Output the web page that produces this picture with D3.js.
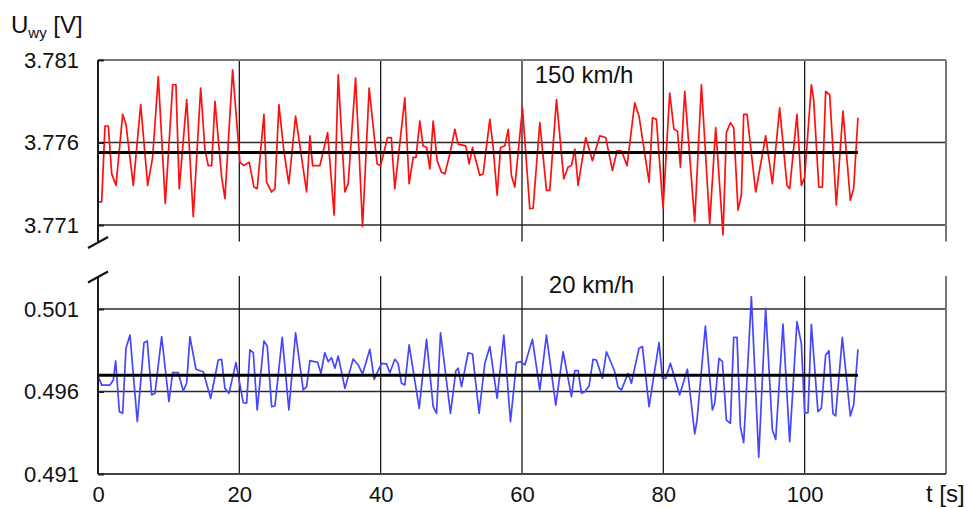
<!DOCTYPE html>
<html>
<head>
<meta charset="utf-8">
<script src="https://cdn.jsdelivr.net/npm/d3@7"></script>
<style>
  html, body { margin: 0; padding: 0; background: #fff; }
  svg { display: block; font-family: "Liberation Sans", Arial, sans-serif; }
  .tick text { fill: #111; }
</style>
</head>
<body>
<div id="chart"></div>
<script>
// --- data (t in s, U in V) ---
const tTop = [0.04,0.52,0.99,1.46,1.94,2.55,3.49,3.96,4.99,6.04,7.03,7.73,8.53,9.52,10.57,11.03,11.5,12.55,13.48,14.53,
  15.13,15.6,16.08,16.55,17.5,17.96,19.05,20.08,20.65,21.4,22.07,22.53,23.48,23.86,24.57,25.04,25.6,26.3,27.0,27.96,
  28.57,29.52,29.99,30.37,31.4,32.49,33.42,33.99,34.94,35.4,36.45,37.44,38.37,39.5,39.99,40.98,41.5,42.0,43.42,44.03,
  44.6,45.0,45.54,46.0,46.5,46.96,47.43,47.99,48.6,49.08,49.79,50.5,50.96,52.05,52.52,53.0,54.03,54.5,55.45,55.9,
  56.48,56.96,57.57,58.05,58.5,58.98,60.07,61.1,61.57,62.52,63.46,63.93,64.88,65.91,66.5,67.0,67.47,67.94,69.02,69.97,
  71.0,71.85,72.8,73.45,74.07,74.87,75.95,76.56,77.98,78.46,79.02,79.96,80.9,81.5,82.0,82.42,83.03,84.44,85.39,86.56,
  87.41,88.45,88.92,89.49,89.96,90.57,91.04,91.37,91.84,93.07,94.48,95.43,96.46,97.5,97.88,98.91,99.53,100.0,100.95,101.27,
  102.0,102.5,102.97,103.54,104.48,105.42,106.46,106.93,107.54];
const uTop = [3.7724,3.7724,3.7770,3.7770,3.7741,3.7734,3.7777,3.7771,3.7734,3.7783,3.7734,3.7751,3.7800,3.7723,3.7795,3.7795,3.7732,3.7786,3.7715,3.7793,
  3.7756,3.7746,3.7746,3.7785,3.7739,3.7726,3.7804,3.7748,3.7746,3.7748,3.7733,3.7732,3.7777,3.7736,3.7730,3.7732,3.7783,3.7755,3.7735,3.7776,
  3.7758,3.7730,3.7764,3.7746,3.7746,3.7766,3.7716,3.7801,3.7730,3.7735,3.7799,3.7709,3.7793,3.7747,3.7746,3.7763,3.7763,3.7732,3.7787,3.7735,
  3.7751,3.7751,3.7773,3.7758,3.7757,3.7744,3.7773,3.7749,3.7742,3.7741,3.7753,3.7768,3.7759,3.7758,3.7747,3.7757,3.7740,3.7741,3.7774,3.7758,
  3.7728,3.7757,3.7758,3.7768,3.7740,3.7733,3.7781,3.7720,3.7720,3.7772,3.7731,3.7731,3.7786,3.7738,3.7745,3.7746,3.7756,3.7734,3.7763,3.7749,
  3.7764,3.7763,3.7743,3.7755,3.7755,3.7746,3.7784,3.7776,3.7736,3.7775,3.7774,3.7720,3.7790,3.7768,3.7767,3.7745,3.7791,3.7712,3.7795,3.7711,
  3.7769,3.7704,3.7766,3.7772,3.7769,3.7719,3.7728,3.7777,3.7777,3.7730,3.7764,3.7735,3.7781,3.7734,3.7732,3.7777,3.7734,3.7739,3.7795,3.7786,
  3.7733,3.7733,3.7791,3.7789,3.7722,3.7779,3.7725,3.7732,3.7775];

const tBot = [0.04,0.52,1.7,2.17,2.5,3.02,3.49,3.96,4.53,5.56,6.51,6.97,7.6,8.06,9.01,10.04,10.56,11.36,12.07,12.54,
  13.01,13.86,14.43,14.9,15.94,17.02,17.49,17.96,18.53,19.52,20.55,21.03,21.5,21.97,22.53,23.48,23.95,24.57,25.04,26.07,
  27.01,27.96,29.04,29.52,29.99,31.07,31.54,32.1,32.58,33.05,33.52,33.99,34.94,36.11,36.82,37.44,38.47,39.08,40.12,40.83,
  41.3,42.0,42.47,42.95,43.42,44.03,45.45,46.49,47.43,47.91,48.47,49.88,50.64,50.96,51.44,52.38,53.0,53.93,54.74,55.45,
  56.48,57.43,58.37,59.22,59.79,60.4,61.48,62.52,63.46,64.78,65.82,67.0,67.47,67.94,68.42,68.88,69.49,70.05,70.53,71.38,
  71.95,72.65,73.12,73.6,74.07,75.01,75.48,76.56,77.04,77.98,79.39,79.87,80.34,81.0,82.3,83.41,84.44,84.77,85.95,86.94,
  87.27,87.88,88.36,88.92,89.49,89.96,90.43,90.9,91.37,92.46,93.5,94.48,95.43,95.9,96.93,97.88,98.91,99.53,100.0,100.47,
  100.95,101.88,102.36,102.97,103.44,104.0,104.38,105.33,106.46,106.93,107.54];
const uBot = [0.49690,0.49639,0.49639,0.49670,0.49785,0.49478,0.49468,0.49862,0.49942,0.49417,0.49896,0.49906,0.49579,0.49589,0.49932,0.49538,0.49714,0.49714,0.49603,0.49650,
  0.49932,0.49735,0.49726,0.49720,0.49559,0.49791,0.49795,0.49619,0.49589,0.49775,0.49532,0.49529,0.49852,0.49835,0.49488,0.49906,0.49876,0.49508,0.49512,0.49928,
  0.49488,0.49956,0.49609,0.49629,0.49787,0.49777,0.49710,0.49835,0.49781,0.49805,0.49741,0.49815,0.49619,0.49797,0.49761,0.49706,0.49856,0.49674,0.49771,0.49767,
  0.49714,0.49795,0.49771,0.49650,0.49639,0.49882,0.49498,0.49916,0.49508,0.49468,0.49956,0.49468,0.49726,0.49741,0.49629,0.49835,0.49827,0.49468,0.49771,0.49872,
  0.49559,0.49942,0.49417,0.49775,0.49781,0.49761,0.49916,0.49609,0.49942,0.49518,0.49841,0.49569,0.49726,0.49726,0.49589,0.49599,0.49633,0.49795,0.49791,0.49680,
  0.49841,0.49771,0.49720,0.49626,0.49609,0.49710,0.49650,0.49862,0.49872,0.49508,0.49896,0.49680,0.49680,0.49771,0.49579,0.49735,0.49343,0.49427,0.49997,0.49488,
  0.49529,0.49801,0.49781,0.49427,0.49407,0.49928,0.49928,0.49387,0.49290,0.50175,0.49201,0.50104,0.49367,0.49310,0.50009,0.49296,0.50023,0.49892,0.49468,0.49472,
  0.50007,0.49478,0.49498,0.49821,0.49847,0.49468,0.49452,0.49928,0.49452,0.49518,0.49856];

const meanTop = 3.7754;
const meanBot = 0.49698;

const xTicks = [0, 20, 40, 60, 80, 100];
const yTicksTop = [3.771, 3.776, 3.781];
const yTicksBot = [0.491, 0.496, 0.501];
const panelLabels = ["150 km/h", "20 km/h"];

(() => {
    const width = 967, height = 508;
    const svg = d3.select("#chart").append("svg")
        .attr("width", width).attr("height", height);

    const x = d3.scaleLinear().domain([0, 120]).range([98, 946]);
    const yTop = d3.scaleLinear().domain([3.770, 3.781]).range([241.5, 60]);
    const yBot = d3.scaleLinear().domain([0.491, 0.503]).range([474, 276]);

    const panels = [
        { y: yTop, t: tTop, u: uTop, mean: meanTop, ticks: yTicksTop, color: "#ff1010", label: panelLabels[0], labelT: 61.8, labelU: 3.7796 },
        { y: yBot, t: tBot, u: uBot, mean: meanBot, ticks: yTicksBot, color: "#4646ff", label: panelLabels[1], labelT: 63.8, labelU: 0.50194 }
    ];

    panels.forEach((p, i) => {
        const g = svg.append("g");
        const [y0, y1] = p.y.range();

        // horizontal grid
        g.selectAll(".hgrid").data(p.ticks).join("line")
            .attr("x1", x(0)).attr("x2", x(120))
            .attr("y1", d => p.y(d)).attr("y2", d => p.y(d))
            .attr("stroke", "#2a2a2a").attr("stroke-width", 1.3);

        // vertical grid
        g.selectAll(".vgrid").data(xTicks.slice(1)).join("line")
            .attr("x1", d => x(d)).attr("x2", d => x(d))
            .attr("y1", y0).attr("y2", y1)
            .attr("stroke", "#1a1a1a").attr("stroke-width", 1.3);

        // right border
        g.append("line")
            .attr("x1", x(120)).attr("x2", x(120)).attr("y1", y0).attr("y2", y1)
            .attr("stroke", "#777").attr("stroke-width", 2);

        // frame top / bottom edges
        if (i === 0) {
            g.append("line").attr("x1", x(0)).attr("x2", x(120))
                .attr("y1", p.y(3.781)).attr("y2", p.y(3.781))
                .attr("stroke", "#777").attr("stroke-width", 2);
        } else {
            g.append("line").attr("x1", x(0)).attr("x2", x(120))
                .attr("y1", p.y(0.491)).attr("y2", p.y(0.491))
                .attr("stroke", "#444").attr("stroke-width", 2);
        }

        // series
        const pts = p.t.map((t, k) => [t, p.u[k]]);
        const line = d3.line().x(d => x(d[0])).y(d => p.y(d[1]));
        g.append("path").datum(pts)
            .attr("d", line)
            .attr("fill", "none")
            .attr("stroke", p.color)
            .attr("stroke-width", 1.7)
            .attr("stroke-linejoin", "round");

        // mean line
        g.append("line")
            .attr("x1", x(0)).attr("x2", x(d3.max(p.t)))
            .attr("y1", p.y(p.mean)).attr("y2", p.y(p.mean))
            .attr("stroke", "#000").attr("stroke-width", 3);

        // left axis with labels
        const axis = d3.axisLeft(p.y).tickValues(p.ticks)
            .tickFormat(d3.format(".3f")).tickSizeInner(-6).tickSizeOuter(0).tickPadding(19);
        const ax = g.append("g").attr("transform", `translate(${x(0)},0)`).call(axis);
        ax.select(".domain").remove();
        ax.selectAll(".tick line").attr("stroke", "#222").attr("stroke-width", 2);
        ax.selectAll(".tick text").style("font-size", "22px");
        g.append("line")
            .attr("x1", x(0)).attr("x2", x(0)).attr("y1", y0).attr("y2", y1)
            .attr("stroke", "#1a1a1a").attr("stroke-width", 2);

        // panel speed label
        g.append("text")
            .attr("x", x(p.labelT)).attr("y", p.y(p.labelU))
            .style("font-size", "24px").attr("fill", "#111")
            .text(p.label);
    });

    // axis break marks
    [yTop.range()[0] + 1, yBot.range()[1] + 1].forEach(cy => {
        svg.append("line")
            .attr("x1", x(0) - 10).attr("y1", cy + 5.5)
            .attr("x2", x(0) + 10).attr("y2", cy - 5.5)
            .attr("stroke", "#111").attr("stroke-width", 2);
    });

    // x axis labels
    const xAxis = d3.axisBottom(x).tickValues(xTicks).tickSize(0).tickPadding(12);
    const xg = svg.append("g").attr("transform", `translate(0,${yBot.range()[0]})`).call(xAxis);
    xg.select(".domain").remove();
    xg.selectAll(".tick text").style("font-size", "22px");

    // axis titles
    const yt = svg.append("text").attr("x", 11).attr("y", 33)
        .attr("fill", "#111").style("font-size", "24px");
    yt.append("tspan").text("U");
    yt.append("tspan").attr("dy", 5).style("font-size", "15px").text("wy");
    yt.append("tspan").attr("dy", -5).text(" [V]");

    svg.append("text").attr("x", 926).attr("y", 502)
        .attr("fill", "#111").style("font-size", "24px")
        .text("t [s]");
})();
</script>
</body>
</html>
